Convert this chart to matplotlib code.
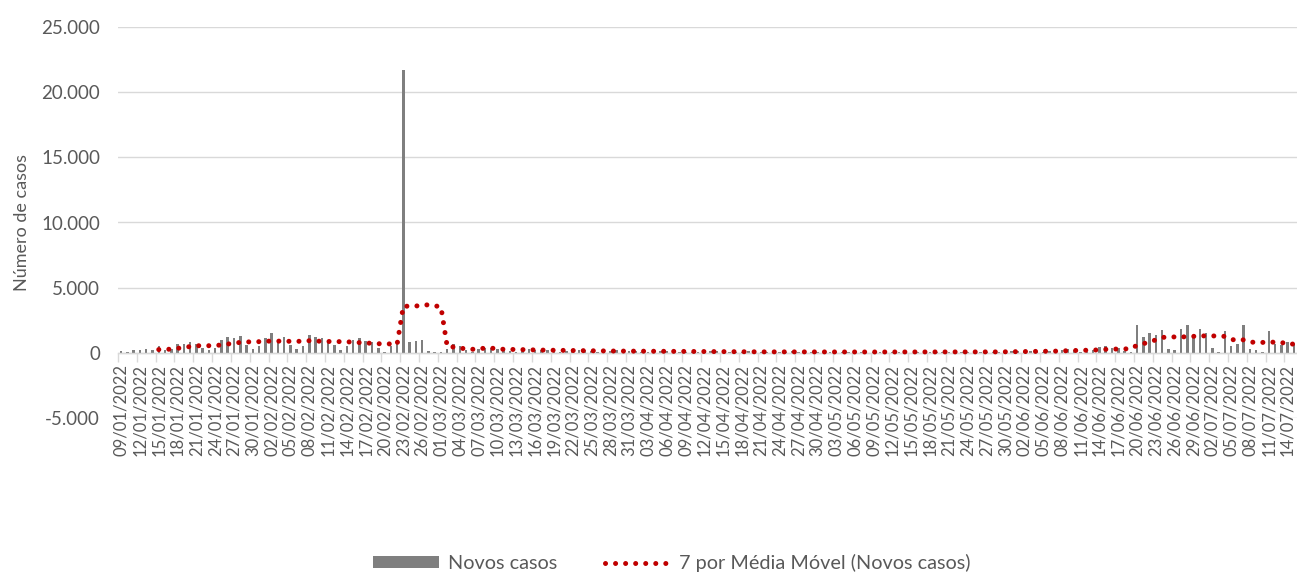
import datetime as dt

import numpy as np
import pandas as pd
import matplotlib
matplotlib.use("Agg")
import matplotlib.pyplot as plt
from matplotlib.ticker import FixedLocator, FuncFormatter
from matplotlib.patches import Patch
from matplotlib.lines import Line2D

plt.rcParams["font.family"] = ["Lato", "DejaVu Sans"]

# Novos casos diarios (09/01/2022 a 15/07/2022)
jan_cases = [150, 100, 250, 200, 300, 250, 500,
             200, 300, 650, 700, 800, 700, 400,
             250, 400, 1000, 1200, 1100, 1300, 600,
             300, 500]
feb_cases = [1100, 1500, 1000, 1200, 600,
             300, 500, 1400, 1200, 1100, 1000, 600,
             200, 500, 1000, 1100, 900, 800, 400,
             100, 500, 700, 21700, 800, 900, 1000,
             150, 50]
mar_cases = [50, 300, 700, 500, 200,
             100, 300, 400, 350, 300, 250, 150,
             80, 200, 300, 250, 250, 200, 100,
             60, 150, 200, 200, 180, 150, 80,
             50, 120, 180, 150, 150]
apr_cases = [120, 70,
             40, 100, 150, 130, 120, 100, 60,
             40, 90, 130, 120, 110, 60, 40,
             30, 80, 120, 110, 50, 90, 50,
             30, 80, 110, 100, 90, 80, 40]
may_cases = [20, 60, 100, 90, 80, 70, 40,
             20, 70, 100, 90, 80, 70, 40,
             20, 60, 90, 80, 80, 70, 30,
             20, 60, 100, 90, 90, 80, 40,
             50, 100, 150]
jun_cases = [130, 150, 120, 60,
             60, 150, 250, 250, 300, 250, 100,
             80, 200, 450, 500, 350, 400, 150,
             100, 2150, 1250, 1500, 1400, 1750, 300,
             200, 1800, 2100, 1300, 1800]
jul_cases = [1500, 400,
             100, 1650, 500, 700, 2150, 300, 200,
             100, 1650, 700, 600, 850, 700]

start_date = dt.date(2022, 1, 9)
cases = np.array(jan_cases + feb_cases + mar_cases + apr_cases
                 + may_cases + jun_cases + jul_cases, dtype=float)
dates = [start_date + dt.timedelta(days=i) for i in range(len(cases))]
date_labels = [d.strftime("%d/%m/%Y") for d in dates]

# media movel de 7 dias, como o Excel faz
moving_avg = pd.Series(cases).rolling(7).mean().to_numpy()

y_ticks = [-5000, 0, 5000, 10000, 15000, 20000, 25000]

GRID = "#d9d9d9"
TEXT = "#595959"

fig = plt.figure(figsize=(12.97, 5.72), dpi=100)
ax = fig.add_axes([118 / 1297, 1 - 418 / 572, 1 - 118 / 1297, (418 - 27) / 572])

x = np.arange(len(cases))
ax.bar(x, cases, width=0.4, color="#7f7f7f", zorder=2)
ax.plot(x, moving_avg, color="#c00000", lw=3.6, linestyle=(0, (0.01, 2.0)),
        dash_capstyle="round", zorder=3)

ax.set_xlim(-0.5, len(cases) - 0.5)
ax.set_ylim(-5000, 25000)
ax.set_yticks(y_ticks)
ax.yaxis.set_major_formatter(
    FuncFormatter(lambda v, p: f"{v:,.0f}".replace(",", ".")))
ax.yaxis.grid(True, color=GRID, lw=1)
ax.set_axisbelow(True)

for s in ["left", "right", "top"]:
    ax.spines[s].set_visible(False)
ax.spines["bottom"].set_position(("data", 0))
ax.spines["bottom"].set_color(GRID)
ax.spines["bottom"].set_linewidth(1)

label_idx = list(range(0, len(cases), 3))
ax.xaxis.set_major_locator(FixedLocator(label_idx))
ax.set_xticklabels([date_labels[i] for i in label_idx], rotation=90,
                   fontsize=12, color=TEXT)
ax.xaxis.set_minor_locator(FixedLocator([i - 0.5 for i in label_idx]))
ax.tick_params(axis="x", which="major", length=0, pad=8)
ax.tick_params(axis="x", which="minor", length=6.5, color=GRID, width=1)
ax.tick_params(axis="y", length=0, pad=13, labelsize=13.5, labelcolor=TEXT)

ax.set_ylabel("Número de casos", fontsize=13, color=TEXT, labelpad=8)

handles = [
    Patch(facecolor="#7f7f7f", edgecolor="none"),
    Line2D([0], [0], color="#c00000", lw=3.6, linestyle=(0, (0.01, 2.0)),
           dash_capstyle="round"),
]
fig.legend(handles, ["Novos casos", "7 por Média Móvel (Novos casos)"],
           loc="center", bbox_to_anchor=(0.518, 1 - 563 / 572),
           ncol=2, frameon=False, fontsize=14.3, labelcolor=TEXT,
           handlelength=3.3, handleheight=0.5, handletextpad=0.45,
           columnspacing=2.4, borderpad=0, borderaxespad=0)

fig.savefig("out.png", dpi=100)
